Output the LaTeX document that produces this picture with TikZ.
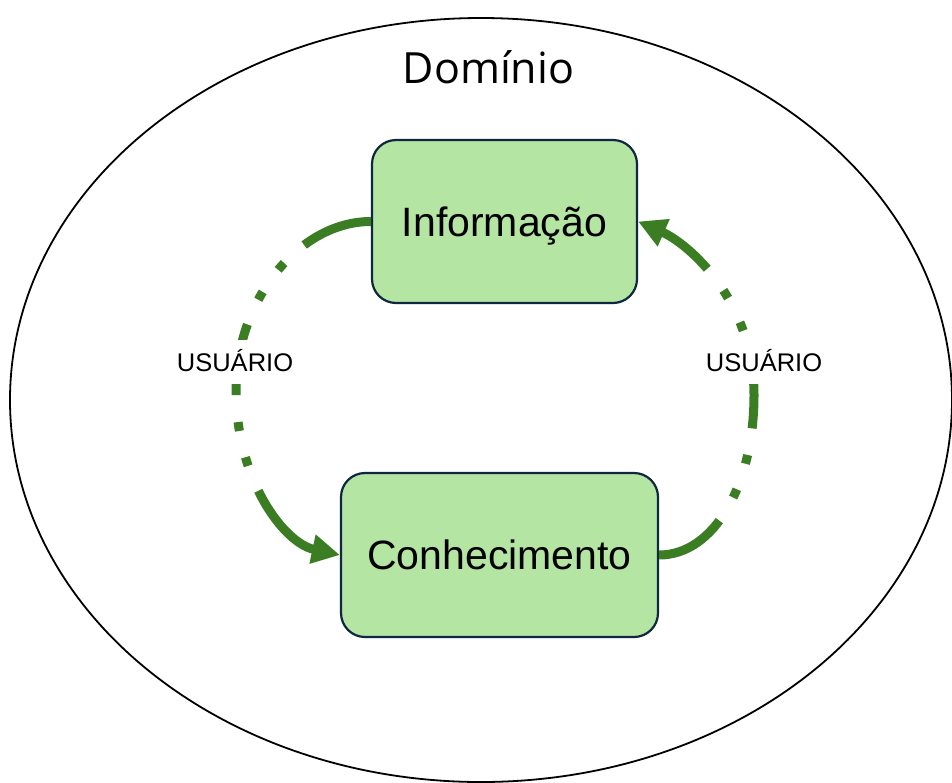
\documentclass[tikz,border=0pt]{standalone}
\usepackage{fontspec}
\setmainfont{Liberation Sans}
\newfontfamily\domfont{Open Sans}
\usetikzlibrary{arrows.meta}
\definecolor{arrgreen}{HTML}{3A7D22}
\definecolor{boxfill}{HTML}{B4E5A2}
\definecolor{boxline}{HTML}{0E2841}
\tikzset{
  box/.style={draw=boxline, line width=2.2pt, fill=boxfill, rounded corners=24pt,
    font=\fontsize{41}{45}\selectfont, text height=29.4pt, text depth=0pt, inner sep=0pt},
  flow/.style={draw=arrgreen, line width=9pt, line cap=butt,
    -{Triangle[length=28pt,width=28pt]},
    dash pattern={on 72pt off 27pt on 9pt off 27pt on 9pt off 27pt on 72pt off 27pt on 9pt off 27pt on 9pt off 27pt on 400pt off 1pt}},
  lbl/.style={fill=white, font=\fontsize{25.5}{28}\selectfont, text height=18.3pt,
    text depth=0pt, inner xsep=3pt, inner ysep=0pt, minimum height=44pt}
}
\begin{document}
\begin{tikzpicture}[x=1pt,y=-1pt]
\useasboundingbox (0,0) rectangle (952,782);
\clip (0,0) rectangle (952,782);
\fill[white] (0,0) rectangle (952,782);
\draw[line width=1.8pt] (481,400) ellipse [x radius=471pt, y radius=382pt];
\node[font=\domfont\fontsize{43}{46}\selectfont, anchor=base] (dom) at (488.5,83) {Domínio};
\node[box, minimum width=265pt, minimum height=163pt] (inf) at (504.5,221.5) {Informação};
\node[box, minimum width=317pt, minimum height=164pt] (con) at (499.5,555) {Conhecimento};
\coordinate (lm) at (236,390);
\coordinate (rm) at (754,395);
\draw[flow] (inf.west) .. controls +(-72,0) and +(0,-90) .. (lm)
  .. controls +(0,90) and +(-56,-12) .. (con.west);
\draw[flow] (con.east) .. controls +(55,0) and +(0,90) .. (rm)
  .. controls +(0,-95) and +(50,22) .. (inf.east);
\node[lbl] (u1) at (235,362) {USUÁRIO};
\node[lbl] (u2) at (764,362) {USUÁRIO};
\end{tikzpicture}
\end{document}
